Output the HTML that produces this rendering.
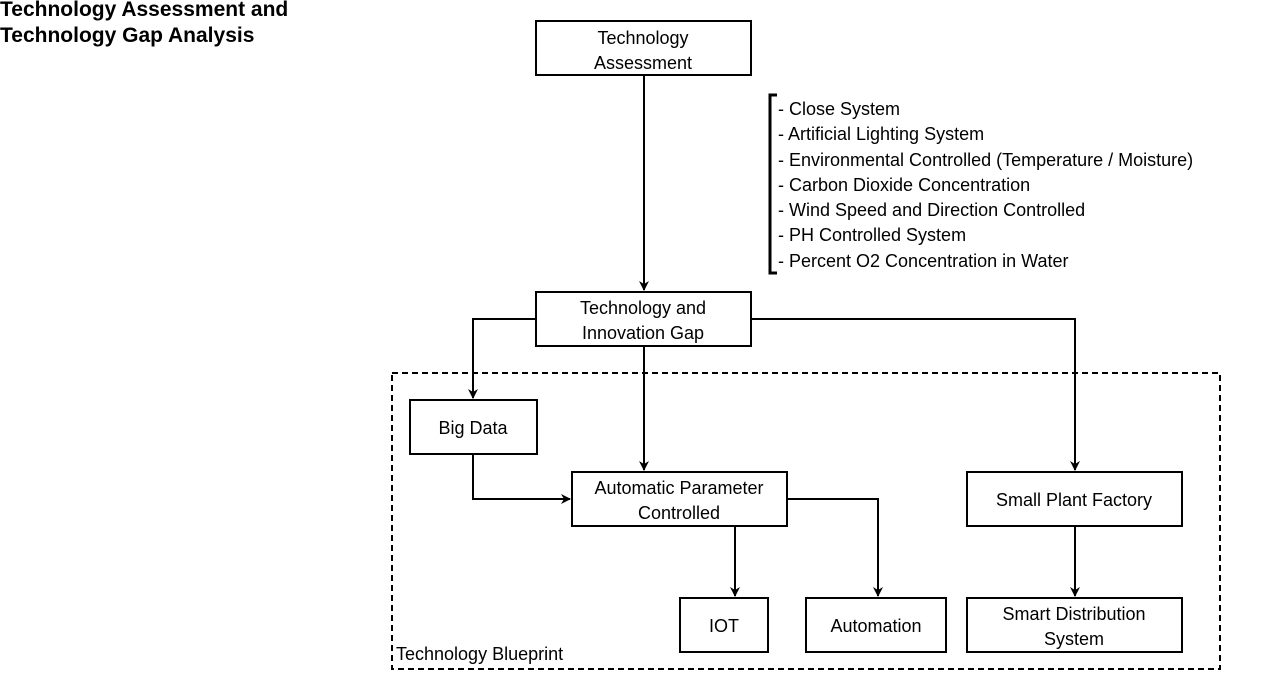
<!DOCTYPE html>
<html><head><meta charset="utf-8"><style>
body{margin:0;width:1276px;height:673px;background:#fff;overflow:hidden;font-family:"Liberation Sans",Arial,sans-serif;}
.t{position:absolute;left:0;top:-3px;font-weight:bold;font-size:21px;line-height:26px;color:#000}
</style></head><body>
<div class="t">Technology Assessment and<br>Technology Gap Analysis</div>
<svg width="1276" height="673" style="position:absolute;left:0;top:0" font-family="Liberation Sans, Arial, sans-serif" font-size="18">
<defs><marker id="a" markerWidth="10" markerHeight="10" refX="9" refY="5" orient="auto" markerUnits="userSpaceOnUse"><path d="M0,0 L10,5 L0,10 L3,5 z" fill="#000"/></marker></defs>
<g fill="none" stroke="#000" stroke-width="2">
<rect x="392" y="373" width="828" height="296" stroke-dasharray="6,4"/>
<rect x="536" y="21" width="215" height="54"/>
<rect x="536" y="292" width="215" height="54"/>
<rect x="410" y="400" width="127" height="54"/>
<rect x="572" y="472" width="215" height="54"/>
<rect x="680" y="598" width="88" height="54"/>
<rect x="806" y="598" width="140" height="54"/>
<rect x="967" y="472" width="215" height="54"/>
<rect x="967" y="598" width="215" height="54"/>
<path d="M644,75 V290" marker-end="url(#a)"/>
<path d="M644,346 V470" marker-end="url(#a)"/>
<path d="M536,319 H473 V398" marker-end="url(#a)"/>
<path d="M751,319 H1075 V470" marker-end="url(#a)"/>
<path d="M473,454 V499 H570" marker-end="url(#a)"/>
<path d="M735,526 V596" marker-end="url(#a)"/>
<path d="M787,499 H878 V596" marker-end="url(#a)"/>
<path d="M1075,526 V596" marker-end="url(#a)"/>
<path d="M777,95 H770 V273 H777" stroke-width="3"/>
</g>
<g text-anchor="middle" fill="#000">
<text x="643" y="44">Technology</text><text x="643" y="69">Assessment</text>
<text x="643" y="314">Technology and</text><text x="643" y="339">Innovation Gap</text>
<text x="473" y="434">Big Data</text>
<text x="679" y="494">Automatic Parameter</text><text x="679" y="519">Controlled</text>
<text x="724" y="632">IOT</text>
<text x="876" y="632">Automation</text>
<text x="1074" y="506">Small Plant Factory</text>
<text x="1074" y="620">Smart Distribution</text><text x="1074" y="645">System</text>
</g>
<g fill="#000">
<text x="778" y="115">- Close System</text>
<text x="778" y="140">- Artificial Lighting System</text>
<text x="778" y="166">- Environmental Controlled (Temperature / Moisture)</text>
<text x="778" y="191">- Carbon Dioxide Concentration</text>
<text x="778" y="216">- Wind Speed and Direction Controlled</text>
<text x="778" y="241">- PH Controlled System</text>
<text x="778" y="267">- Percent O2 Concentration in Water</text>
<text x="396" y="660">Technology Blueprint</text>
</g>
</svg>
</body></html>
